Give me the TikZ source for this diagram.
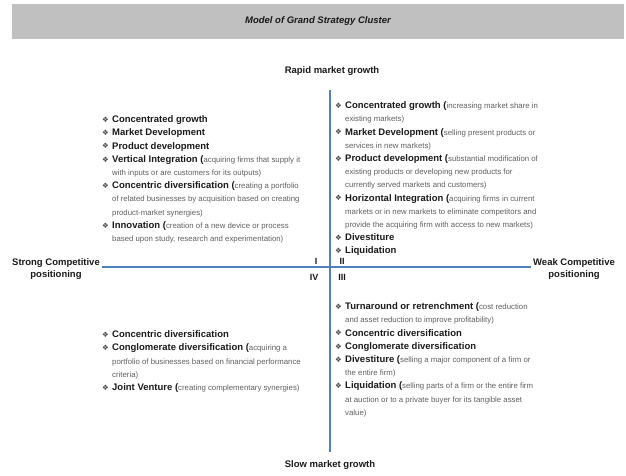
\documentclass[tikz,border=0pt]{standalone}
\usepackage{fontspec}
\setmainfont{Liberation Sans}
\newfontfamily\dejavu{DejaVu Sans}
\definecolor{axisblue}{RGB}{79,129,189}
\definecolor{barfill}{RGB}{192,192,192}
\definecolor{boldtxt}{RGB}{25,25,25}
\definecolor{smalltxt}{RGB}{95,95,95}
\definecolor{bulcol}{RGB}{70,70,70}
\newcommand\mybul{\makebox[10pt][l]{\raisebox{0.3pt}{\color{bulcol}\dejavu\fontsize{7.5}{13.2}\selectfont ❖}}}
\newcommand\itb[1]{{\fontsize{9.5}{13.2}\selectfont\bfseries\color{boldtxt}#1}}
\newcommand\itsm[1]{{\fontsize{7.8}{13.2}\selectfont\color{smalltxt}#1}}
\newcommand\cont{\hspace*{10pt}}
\newcommand\firststrut{\rule{0pt}{7.5pt}}
\tikzset{
  quad/.style={anchor=north west, inner sep=0pt, align=left, font=\fontsize{9.5}{13.2}\selectfont},
  axislabel/.style={font=\fontsize{9.5}{11.5}\selectfont\bfseries, text=boldtxt, align=center},
  romlabel/.style={font=\fontsize{9}{10}\selectfont\bfseries, text=boldtxt, inner sep=0pt},
  axisline/.style={draw=axisblue, line width=1.3pt}
}
\begin{document}
\begin{tikzpicture}[x=1pt,y=-1pt]
\useasboundingbox (0,0) rectangle (626,475);
% title bar
\node[name=titlebar, fill=barfill, minimum width=612pt, minimum height=35pt, inner sep=0pt,
      font=\fontsize{9.5}{11}\selectfont\bfseries\itshape, text=boldtxt] at (318,21.5) {Model of Grand Strategy Cluster};
% axis labels
\node[axislabel, name=rapid] at (332,71) {Rapid market growth};
\node[axislabel, name=slow] at (330,465) {Slow market growth};
\node[axislabel, name=strong, inner sep=2pt] at (56,269) {Strong Competitive\\positioning};
\node[axislabel, name=weak, inner sep=2pt] at (574,269) {Weak Competitive\\positioning};
% axes
\coordinate (vtop) at (330,90);
\coordinate (vbot) at (330,452);
\draw[axisline] (vtop) -- (vbot);
\draw[axisline] (strong.east |- 0,267) coordinate (hleft) -- (weak.west |- 0,267) coordinate (hright);
% quadrant numerals
\node[romlabel, name=qI] at (316,261) {I};
\node[romlabel, name=qII] at (342,261) {II};
\node[romlabel, name=qIV] at (314,277) {IV};
\node[romlabel, name=qIII] at (342,277) {III};
% top-left
\node[quad, name=topleft] at (102,115) {%
\firststrut\mybul\itb{Concentrated growth}\\
\mybul\itb{Market Development}\\
\mybul\itb{Product development}\\
\mybul\itb{Vertical Integration (}\itsm{acquiring firms that supply it}\\
\cont\itsm{with inputs or are customers for its outputs)}\\
\mybul\itb{Concentric diversification (}\itsm{creating a portfolio}\\
\cont\itsm{of related businesses by acquisition based on creating}\\
\cont\itsm{product-market synergies)}\\
\mybul\itb{Innovation (}\itsm{creation of a new device or process}\\
\cont\itsm{based upon study, research and experimentation)}};
% top-right
\node[quad, name=topright] at (335,101) {%
\firststrut\mybul\itb{Concentrated growth (}\itsm{increasing market share in}\\
\cont\itsm{existing markets)}\\
\mybul\itb{Market Development (}\itsm{selling present products or}\\
\cont\itsm{services in new markets)}\\
\mybul\itb{Product development (}\itsm{substantial modification of}\\
\cont\itsm{existing products or developing new products for}\\
\cont\itsm{currently served markets and customers)}\\
\mybul\itb{Horizontal Integration (}\itsm{acquiring firms in current}\\
\cont\itsm{markets or in new markets to eliminate competitors and}\\
\cont\itsm{provide the acquiring firm with access to new markets)}\\
\mybul\itb{Divestiture}\\
\mybul\itb{Liquidation}};
% bottom-right
\node[quad, name=botright] at (335,302) {%
\firststrut\mybul\itb{Turnaround or retrenchment (}\itsm{cost reduction}\\
\cont\itsm{and asset reduction to improve profitability)}\\
\mybul\itb{Concentric diversification}\\
\mybul\itb{Conglomerate diversification}\\
\mybul\itb{Divestiture (}\itsm{selling a major component of a firm or}\\
\cont\itsm{the entire firm)}\\
\mybul\itb{Liquidation (}\itsm{selling parts of a firm or the entire firm}\\
\cont\itsm{at auction or to a private buyer for its tangible asset}\\
\cont\itsm{value)}};
% bottom-left
\node[quad, name=botleft] at (102,330) {%
\firststrut\mybul\itb{Concentric diversification}\\
\mybul\itb{Conglomerate diversification (}\itsm{acquiring a}\\
\cont\itsm{portfolio of businesses based on financial performance}\\
\cont\itsm{criteria)}\\
\mybul\itb{Joint Venture (}\itsm{creating complementary synergies)}};
\end{tikzpicture}
\end{document}
